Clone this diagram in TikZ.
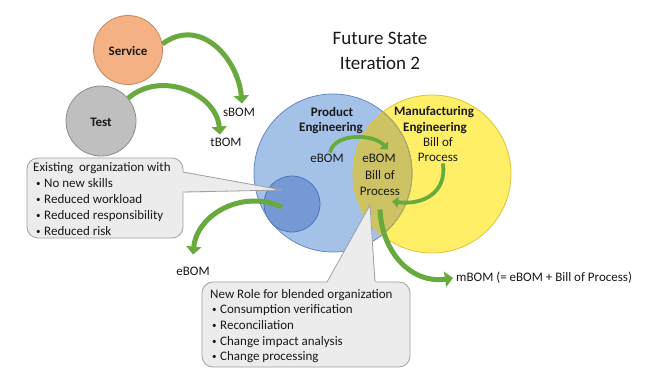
\documentclass[tikz,border=0pt]{standalone}
\usepackage{fontspec}
\setmainfont{Carlito}
\usetikzlibrary{arrows.meta}
\definecolor{txtc}{RGB}{25,25,25}
\definecolor{orfill}{RGB}{244,177,131}
\definecolor{ordraw}{RGB}{200,135,90}
\definecolor{grfill}{RGB}{191,191,191}
\definecolor{grdraw}{RGB}{140,140,140}
\definecolor{bfill}{RGB}{164,194,232}
\definecolor{bdraw}{RGB}{100,138,198}
\definecolor{sfill}{RGB}{116,153,212}
\definecolor{sdraw}{RGB}{80,115,180}
\definecolor{yfill}{RGB}{255,239,102}
\definecolor{ydraw}{RGB}{220,196,60}
\definecolor{ofill}{RGB}{206,195,100}
\definecolor{odraw}{RGB}{185,170,80}
\definecolor{cfill}{RGB}{236,236,236}
\definecolor{cdraw}{RGB}{160,160,160}
\definecolor{agreen}{RGB}{104,170,62}
\tikzset{
  txt/.style={text=txtc, inner sep=0pt, font=\fontsize{13}{15}\selectfont},
  btxt/.style={txt, font=\bfseries\fontsize{13}{15}\selectfont},
  bul/.style={text=txtc, inner sep=0pt, font=\fontsize{9}{11}\selectfont},
  ttl/.style={text=txtc, inner sep=0pt, font=\fontsize{19}{22}\selectfont},
  garrow/.style={draw=agreen, line width=5pt, -{Triangle[length=8pt,width=15pt]}},
  sarrow/.style={draw=agreen, line width=3.8pt, -{Triangle[length=6pt,width=11pt]}},
  calloutbox/.style={fill=cfill, draw=cdraw, line width=0.8pt, rounded corners=11pt},
}
\begin{document}
\begin{tikzpicture}[x=1pt,y=-1pt]
\useasboundingbox[fill=white] (0,0) rectangle (645,389);

% title
\node[ttl] (t1) at (380,38) {Future State};
\node[ttl] (t2) at (380,63) {Iteration 2};

% service and test
\node[circle, minimum size=69pt, fill=orfill, draw=ordraw, line width=0.8pt, inner sep=0pt] (svc) at (128,50) {};
\node[btxt] (svct) at (128,51) {Service};
\node[circle, minimum size=70pt, fill=grfill, draw=grdraw, line width=0.8pt, inner sep=0pt] (test) at (101,121) {};
\node[btxt] (testt) at (101,122) {Test};
\node[txt] (sbom) at (239,112) {sBOM};
\node[txt] (tbom) at (226,142) {tBOM};

% big circles
\node[circle, minimum size=158pt, fill=bfill, inner sep=0pt] (pe) at (333,173) {};
\node[circle, minimum size=158pt, fill=yfill, inner sep=0pt] (me) at (432,174) {};
\begin{scope}
  \clip (333,173) circle[radius=79];
  \fill[ofill] (432,174) circle[radius=79];
\end{scope}
\draw[bdraw, line width=0.8pt] (333,173) circle[radius=79];
\draw[ydraw, line width=0.8pt] (432,174) circle[radius=79];
\begin{scope}
  \clip (432,174) circle[radius=79];
  \draw[odraw, line width=0.8pt] (333,173) circle[radius=79];
\end{scope}
\node[circle, minimum size=56pt, fill=sfill, draw=sdraw, line width=0.8pt, inner sep=0pt] (sm) at (292,204) {};

% labels in circles
\node[btxt] (pe1) at (332,112) {Product};
\node[btxt] (pe2) at (331,128) {Engineering};
\node[btxt] (me1) at (434,112) {Manufacturing};
\node[btxt] (me2) at (435,128) {Engineering};
\node[txt] (mp1) at (438,142) {Bill of};
\node[txt] (mp2) at (438,157) {Process};
\node[txt] (ebomL) at (327,158) {eBOM};
\node[txt] (ebomM) at (379,158) {eBOM};
\node[txt] (op1) at (380,175) {Bill of};
\node[txt] (op2) at (380,191) {Process};

% callout 1
\path[calloutbox] (27,158) rectangle (183,238);
\fill[cfill] (180,171) -- (282,190) -- (180,193) -- cycle;
\draw[cdraw, line width=0.8pt, line join=miter] (183,172) -- (282,190) -- (183,192);
\node[txt, anchor=base west] (c1h) at (33,171) {Existing\ \ organization with};
\foreach \t [count=\i] in {No new skills, Reduced workload, Reduced responsibility, Reduced risk}{
  \node[bul, anchor=base west] (c1b\i) at (36,{170+16*\i}) {\textbullet};
  \node[txt, anchor=base west] (c1l\i) at (44,{171+16*\i}) {\t};
}

% callout 2
\path[calloutbox] (202,282) rectangle (410,367);
\fill[cfill] (326,285) -- (370,205) -- (376,285) -- cycle;
\draw[cdraw, line width=0.8pt, line join=miter] (327,282) -- (370,205) -- (375,282);
\node[txt, anchor=base west] (c2h) at (210,298) {New Role for blended organization};
\foreach \t [count=\i] in {Consumption verification, Reconciliation, Change impact analysis, Change processing}{
  \node[bul, anchor=base west] (c2b\i) at (212,{297+15.7*\i}) {\textbullet};
  \node[txt, anchor=base west] (c2l\i) at (220,{298+15.7*\i}) {\t};
}

% other labels
\node[txt] (ebomB) at (193,271) {eBOM};
\node[txt, anchor=west] (mbom) at (456,278) {mBOM (= eBOM + Bill of Process)};

% arrows
\draw[garrow] (svc.10) .. controls +(38,-28) and +(-4,-45) .. ([xshift=3pt,yshift=4pt]sbom.north);
\draw[garrow] (test.40) .. controls +(32,-28) and +(-4,-42) .. ([xshift=-6pt,yshift=3pt]tbom.north);
\draw[sarrow] ([xshift=3pt,yshift=1pt]ebomL.north) .. controls +(4,-20) and +(-14,-16) .. ([xshift=-8pt,yshift=4pt]ebomM.north east);
\draw[sarrow] ([xshift=5pt,yshift=-2pt]mp2.south) .. controls +(4,30) and +(30,4) .. ([xshift=-8pt,yshift=-6pt]op2.south east);
\draw[garrow] ([yshift=-14pt]op2.south) .. controls +(2,45) and +(-40,6) .. ([xshift=-3pt]mbom.west);
\draw[garrow] ([xshift=-10pt,yshift=-3pt]sm.center) .. controls +(-40,-18) and +(4,-40) .. ([yshift=12pt]ebomB.north);
\end{tikzpicture}
\end{document}
